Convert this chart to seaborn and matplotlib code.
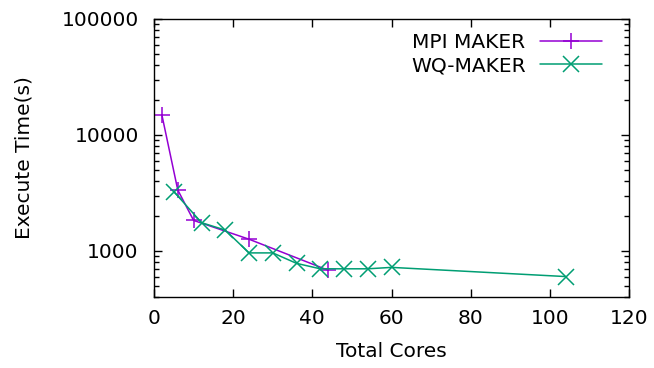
import matplotlib
matplotlib.use("Agg")
import matplotlib.pyplot as plt
import seaborn as sns
import pandas as pd
from matplotlib.ticker import FixedLocator, FuncFormatter, LogLocator, NullFormatter

sns.set_style("ticks")
plt.rcParams['font.family'] = ['DejaVu Sans']
plt.rcParams['text.color'] = 'black'
plt.rcParams['axes.labelcolor'] = 'black'
plt.rcParams['xtick.color'] = 'black'
plt.rcParams['ytick.color'] = 'black'

mpi_cores = [2, 6, 10, 24, 44]
mpi_time = [14800, 3350, 1830, 1260, 680]
wq_cores = [5, 12, 18, 24, 30, 36, 42, 48, 54, 60, 104]
wq_time = [3250, 1750, 1510, 960, 960, 780, 700, 700, 700, 720, 600]

series_names = ["MPI MAKER", "WQ-MAKER"]
colors = ["#9400D3", "#009E73"]
markers = ["+", "x"]
msizes = [12, 11.5]

df_mpi = pd.DataFrame({"cores": mpi_cores, "time": mpi_time})
df_wq = pd.DataFrame({"cores": wq_cores, "time": wq_time})

fig = plt.figure(figsize=(6.54, 3.68), dpi=100)
ax = fig.add_axes([0.2355, 0.193, 0.7263, 0.7554])

for df, name, c, m, ms in zip([df_mpi, df_wq], series_names, colors, markers, msizes):
    sns.lineplot(data=df, x="cores", y="time", ax=ax, color=c, marker=m,
                 markersize=ms, markeredgecolor=c, markeredgewidth=1.1,
                 linewidth=1.1, label=name, sort=False, estimator=None)

ax.set_yscale("log")
ax.set_xlim(0, 120)
ax.set_ylim(400, 100000)
ax.set_xticks([0, 20, 40, 60, 80, 100, 120])
ax.yaxis.set_major_locator(FixedLocator([1000, 10000, 100000]))
ax.yaxis.set_major_formatter(FuncFormatter(lambda v, p: f"{int(round(v))}"))
ax.yaxis.set_minor_locator(LogLocator(base=10, subs=range(2, 10)))
ax.yaxis.set_minor_formatter(NullFormatter())

fs = 14.5
ax.tick_params(axis="both", which="major", direction="in", length=6, width=1,
               top=True, right=True, labelsize=fs, color="black", labelcolor="black")
ax.tick_params(axis="y", which="minor", direction="in", length=3.5, width=1,
               left=True, right=True, color="black")
ax.tick_params(axis="x", which="major", pad=9)
ax.tick_params(axis="y", which="major", pad=11)
for s in ax.spines.values():
    s.set_color("black")
    s.set_linewidth(1)

ax.set_xlabel("Total Cores", fontsize=fs, labelpad=10, color="black")
ax.set_ylabel("Execute Time(s)", fontsize=fs, labelpad=20, color="black")

leg = ax.legend(loc="upper right", bbox_to_anchor=(0.977, 1.007), frameon=False,
                markerfirst=False, fontsize=fs,
                handlelength=3.1, handletextpad=0.7, labelspacing=0.2,
                borderaxespad=0.6, borderpad=0.2)
for t in leg.get_texts():
    t.set_color("black")

fig.savefig("out.png", dpi=100)
